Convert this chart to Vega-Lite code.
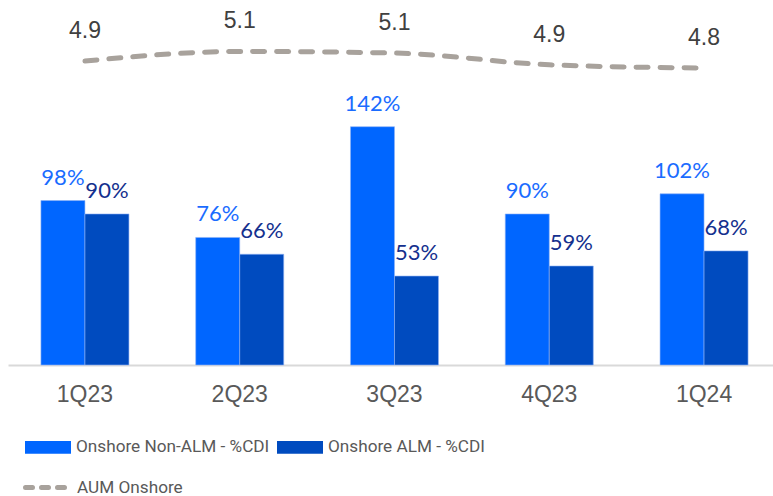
{
  "$schema": "https://vega.github.io/schema/vega-lite/v6.json",
  "width": 765,
  "height": 365,
  "autosize": "none",
  "padding": {"left": 8, "top": 0, "right": 0, "bottom": 131},
  "background": "white",
  "config": {"view": {"stroke": null}, "font": "Liberation Sans", "legend": {"padding": 0}},
  "datasets": {
    "bars": [
      {"q": "1Q23", "series": "Onshore Non-ALM - %CDI", "value": 0.98},
      {"q": "1Q23", "series": "Onshore ALM - %CDI", "value": 0.90},
      {"q": "2Q23", "series": "Onshore Non-ALM - %CDI", "value": 0.76},
      {"q": "2Q23", "series": "Onshore ALM - %CDI", "value": 0.66},
      {"q": "3Q23", "series": "Onshore Non-ALM - %CDI", "value": 1.42},
      {"q": "3Q23", "series": "Onshore ALM - %CDI", "value": 0.53},
      {"q": "4Q23", "series": "Onshore Non-ALM - %CDI", "value": 0.90},
      {"q": "4Q23", "series": "Onshore ALM - %CDI", "value": 0.59},
      {"q": "1Q24", "series": "Onshore Non-ALM - %CDI", "value": 1.02},
      {"q": "1Q24", "series": "Onshore ALM - %CDI", "value": 0.68}
    ],
    "aum": [
      {"q": "1Q23", "v": 4.93},
      {"q": "2Q23", "v": 5.11},
      {"q": "3Q23", "v": 5.08},
      {"q": "4Q23", "v": 4.86},
      {"q": "1Q24", "v": 4.80}
    ]
  },
  "encoding": {
    "x": {
      "field": "q",
      "type": "nominal",
      "sort": ["1Q23", "2Q23", "3Q23", "4Q23", "1Q24"],
      "scale": {"paddingInner": 0.4313, "paddingOuter": 0.187, "align": 0.569},
      "axis": {
        "title": null,
        "labelAngle": 0,
        "labelFont": "Liberation Sans",
        "labelFontSize": 23,
        "labelColor": "#595959",
        "labelPadding": 18,
        "ticks": false,
        "grid": false,
        "domainColor": "#d9d9d9",
        "domainWidth": 2
      }
    }
  },
  "layer": [
    {
      "data": {"name": "bars"},
      "layer": [
        {
          "mark": {"type": "bar", "stroke": "#8fb3f5", "strokeWidth": 1, "strokeOpacity": 0.6},
          "encoding": {
            "xOffset": {"field": "series", "type": "nominal", "sort": ["Onshore Non-ALM - %CDI", "Onshore ALM - %CDI"], "scale": {"paddingInner": 0, "paddingOuter": 0}},
            "y": {"field": "value", "type": "quantitative", "scale": {"domain": [0, 2.175], "nice": false, "zero": true}, "axis": null},
            "color": {
              "field": "series",
              "type": "nominal",
              "sort": ["Onshore Non-ALM - %CDI", "Onshore ALM - %CDI"],
              "scale": {"range": ["#0066ff", "#004bbf"]},
              "legend": {
                "title": null,
                "orient": "none",
                "legendX": 17,
                "legendY": 424,
                "direction": "horizontal",
                "symbolType": "M-1,-0.28H1V0.28H-1Z",
                "symbolSize": 2116,
                "symbolStrokeWidth": 0,
                "labelFont": "Roboto",
                "labelFontSize": 17.2,
                "labelColor": "#595959",
                "labelOffset": 5,
                "columnPadding": 7,
                "labelLimit": 400
              }
            }
          }
        },
        {
          "mark": {"type": "text", "baseline": "alphabetic", "dy": -16, "font": "Lato", "fontSize": 22},
          "encoding": {
            "xOffset": {"field": "series", "type": "nominal", "sort": ["Onshore Non-ALM - %CDI", "Onshore ALM - %CDI"], "scale": {"paddingInner": 0, "paddingOuter": 0}},
            "y": {"field": "value", "type": "quantitative", "scale": {"domain": [0, 2.175], "nice": false, "zero": true}, "axis": null},
            "text": {"field": "value", "type": "quantitative", "format": ".0%"},
            "color": {"condition": {"test": "datum.series === 'Onshore Non-ALM - %CDI'", "value": "#1a6cff"}, "value": "#14308e"}
          }
        }
      ]
    },
    {
      "data": {"name": "aum"},
      "layer": [
        {
          "mark": {"type": "line", "interpolate": "monotone", "strokeWidth": 5, "strokeDash": [12, 12], "strokeCap": "round"},
          "encoding": {
            "y": {"field": "v", "type": "quantitative", "scale": {"domain": [-0.77, 6.075], "nice": false, "zero": false}, "axis": null},
            "stroke": {
              "datum": "AUM Onshore",
              "type": "nominal",
              "scale": {"range": ["#a8a29c"]},
              "legend": {
                "title": null,
                "orient": "none",
                "legendX": 15,
                "legendY": 465,
                "symbolType": "stroke",
                "symbolSize": 1600,
                "symbolStrokeWidth": 5,
                "symbolDash": [7, 9],
                "labelFont": "Roboto",
                "labelFontSize": 17.2,
                "labelColor": "#595959",
                "labelOffset": 9,
                "encode": {"symbols": {"update": {"strokeCap": {"value": "round"}}}}
              }
            }
          }
        },
        {
          "mark": {"type": "text", "baseline": "alphabetic", "dy": -23, "font": "Liberation Sans", "fontSize": 23, "color": "#404040"},
          "encoding": {
            "y": {"field": "v", "type": "quantitative", "scale": {"domain": [-0.77, 6.075], "nice": false, "zero": false}, "axis": null},
            "text": {"field": "v", "type": "quantitative", "format": ".1f"}
          }
        }
      ]
    }
  ],
  "resolve": {"scale": {"y": "independent"}}
}
